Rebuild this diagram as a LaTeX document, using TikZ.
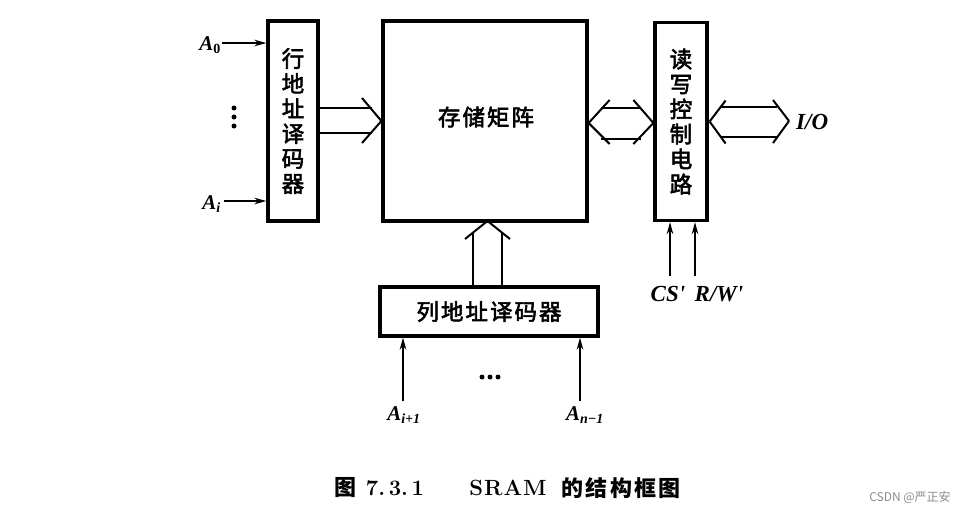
\documentclass[tikz,border=0pt]{standalone}
\usepackage{fontspec}
\setmainfont{Liberation Serif}[Ligatures=TeXOff]
\newfontfamily\cjk{Noto Sans CJK SC}
\newfontfamily\cjkm{Noto Sans CJK SC}[FakeBold=2.5]
\newfontfamily\lmr{Latin Modern Roman}
\usetikzlibrary{arrows.meta,calc}
\begin{document}
\begin{tikzpicture}[x=1pt,y=-1pt,
  box/.style={draw,line width=3.2pt,inner sep=0pt,align=center},
  ctext/.style={font=\cjkm\fontsize{22.5}{25}\selectfont},
  sig/.style={line width=2pt,-{Stealth[length=12pt,width=6.5pt]}},
  bus/.style={line width=2pt},
  lbl/.style={font=\fontsize{21}{23}\selectfont\bfseries\itshape,inner sep=0pt},
  big/.style={font=\fontsize{23}{25}\selectfont\bfseries\itshape},
  dot/.style={circle,fill,inner sep=0pt,minimum size=5pt}]
\useasboundingbox[fill=white] (0,0) rectangle (979,515);

% boxes
\node[box,ctext,minimum width=50pt,minimum height=200pt] (row) at (293,121) {行\\地\\址\\译\\码\\器};
\node[box,minimum width=204pt,minimum height=200pt] (mem) at (485,121) {};
\node[ctext,inner sep=0pt] (memtxt) at (486,117) {存\hspace{2pt}储\hspace{2pt}矩\hspace{2pt}阵};
\node[box,ctext,minimum width=52pt,minimum height=198pt] (rw) at (681,121.5) {读\\写\\控\\制\\电\\路};
\node[box,ctext,minimum width=218pt,minimum height=49pt] (col) at (489,311.5) {列\hspace{2pt}地\hspace{2pt}址\hspace{2pt}译\hspace{2pt}码\hspace{2pt}器};

% row address inputs
\node[lbl,anchor=east] (a0) at (221,45) {A\textsubscript{\upshape\fontsize{14}{14}\selectfont 0}};
\node[lbl,anchor=east] (ai) at (221,204) {A\textsubscript{\fontsize{14}{14}\selectfont i}};
\coordinate (a0s) at (222,43);
\coordinate (ais) at (224,201);
\draw[sig] (a0s) -- (a0s -| row.west);
\draw[sig] (ais) -- (ais -| row.west);
\node[dot] (v1) at (234,108) {};
\node[dot] (v2) at (234,117) {};
\node[dot] (v3) at (234,126) {};

% row decoder -> memory bus
\draw[bus] ($(row.east)+(0,-13)$) -- (372,108);
\draw[bus] ($(row.east)+(0,12)$) -- (372,133);
\draw[bus] (362,98) -- (mem.west) -- (362,143);

% memory <-> rw bus
\coordinate (mt) at ($(mem.east)+(0,2)$);
\coordinate (rt) at ($(rw.west)+(0,1.5)$);
\draw[bus] (mt) -- ++(21,-23);
\draw[bus] (mt) -- ++(21,21);
\draw[bus] (rt) -- ++(-20,-23);
\draw[bus] (rt) -- ++(-20,21);
\draw[bus] (601,108) -- (641,108);
\draw[bus] (601,139) -- (641,139);

% rw <-> I/O bus
\coordinate (rl) at ($(rw.east)+(1,0)$);
\coordinate (io) at (789,121);
\draw[bus] (rl) -- ++(16,-21);
\draw[bus] (rl) -- ++(16,22);
\draw[bus] (io) -- ++(-16,-21);
\draw[bus] (io) -- ++(-16,22);
\draw[bus] (721,107) -- (777,107);
\draw[bus] (721,137) -- (777,137);
\node[lbl,big,anchor=west] (iol) at (796,122) {I/O};

% CS' R/W'
\coordinate (css) at (670,276);
\coordinate (rws) at (695,276);
\draw[sig] (css) -- (css |- rw.south);
\draw[sig] (rws) -- (rws |- rw.south);
\node[lbl,big] (csl) at (668,294) {CS'};
\node[lbl,big] (rwl) at (719,294) {R/W'};

% column decoder -> memory bus
\draw[bus] (473,287) -- (473,233);
\draw[bus] (502,287) -- (502,233);
\draw[bus] (465,239) -- (487.5,221) -- (510,239);

% column address inputs
\coordinate (c1) at (403,401);
\coordinate (c2) at (580,401);
\draw[sig] (c1) -- (c1 |- col.south);
\draw[sig] (c2) -- (c2 |- col.south);
\node[lbl] (ai1) at (404,415) {A\textsubscript{\fontsize{14}{14}\selectfont i+1}};
\node[lbl] (an1) at (585,415) {A\textsubscript{\fontsize{14}{14}\selectfont n\textminus 1}};
\node[dot] (h1) at (482,377) {};
\node[dot] (h2) at (490,377) {};
\node[dot] (h3) at (498,377) {};

% caption
\node[inner sep=0pt,font=\cjk\bfseries\fontsize{22}{24}\selectfont] (cap1) at (345,488) {图};
\node[inner sep=0pt,font=\lmr\bfseries\fontsize{22}{24}\selectfont] (cap2) at (395,488) {7.\,3.\,1};
\node[inner sep=0pt,font=\lmr\bfseries\fontsize{22}{24}\selectfont] (cap3) at (508,488) {S\hspace{1pt}R\hspace{1pt}A\hspace{1pt}M};
\node[inner sep=0pt,font=\cjk\bfseries\fontsize{22}{24}\selectfont] (cap4) at (621,488) {的\hspace{2.5pt}结\hspace{2.5pt}构\hspace{2.5pt}框\hspace{2.5pt}图};
\node[inner sep=0pt,text=black!45] (wm) at (910,497) {\cjk\fontsize{12}{14}\selectfont CSDN @严正安};
\end{tikzpicture}
\end{document}
